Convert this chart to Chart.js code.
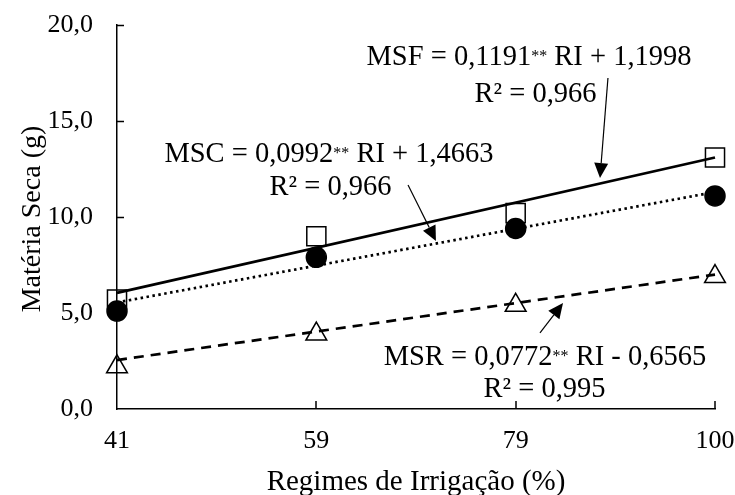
<!DOCTYPE html>
<html><head><meta charset="utf-8">
<script src="https://cdn.jsdelivr.net/npm/chart.js@4"></script>
<style>html,body{margin:0;padding:0;background:#fff}canvas{display:block}</style>
</head><body>
<canvas id="c" width="735" height="495"></canvas>
<script>
// ---- data ----
const categories = ['41', '59', '79', '100'];
const msfValues = [5.7, 9.0, 10.2, 13.1];
const mscValues = [5.1, 7.9, 9.4, 11.1];
const msrValues = [2.2, 3.9, 5.4, 6.9];
const msfTrend = [6.05, null, null, 13.1];
const mscTrend = [5.55, null, null, 11.3];
const msrTrend = [2.55, null, null, 7.0];
const yTickValues = [0, 5, 10, 15, 20];
const xTitle = 'Regimes de Irrigação (%)';
const yTitle = 'Matéria Seca (g)';

const SERIF = '"Liberation Serif", "Times New Roman", serif';

// annotation texts, anchored in data space (category index, value)
const textNotes = [
  { at: [2.067, 17.92], parts: [{ t: 'MSF = 0,1191' }, { t: '**', sup: true }, { t: ' RI + 1,1998' }] },
  { at: [2.0995, 15.99], parts: [{ t: 'R² = 0,966' }] },
  { at: [1.0636, 12.86], parts: [{ t: 'MSC = 0,0992' }, { t: '**', sup: true }, { t: ' RI + 1,4663' }] },
  { at: [1.0711, 11.15], parts: [{ t: 'R² = 0,966' }] },
  { at: [2.147, 2.29], parts: [{ t: 'MSR = 0,0772' }, { t: '**', sup: true }, { t: ' RI - 0,6565' }] },
  { at: [2.145, 0.625], parts: [{ t: 'R² = 0,995' }] }
];
const arrowNotes = [
  { from: [2.463, 17.24], to: [2.423, 12.03] },
  { from: [1.460, 11.67], to: [1.600, 8.75] },
  { from: [2.122, 3.96], to: [2.2375, 5.52] }
];

function drawParts(ctx, parts, cx, by, size) {
  const supSize = 16;
  let total = 0;
  parts.forEach(p => {
    ctx.font = (p.sup ? supSize : size) + 'px ' + SERIF;
    p.w = ctx.measureText(p.t).width;
    total += p.w;
  });
  let x = cx - total / 2;
  ctx.textAlign = 'left';
  ctx.textBaseline = 'alphabetic';
  parts.forEach(p => {
    ctx.font = (p.sup ? supSize : size) + 'px ' + SERIF;
    ctx.fillText(p.t, x, p.sup ? by - 4 : by);
    x += p.w;
  });
}

function drawArrow(ctx, x1, y1, x2, y2) {
  const ang = Math.atan2(y2 - y1, x2 - x1);
  const L = 15, W = 7;
  const bx = x2 - L * Math.cos(ang), by = y2 - L * Math.sin(ang);
  ctx.beginPath(); ctx.moveTo(x1, y1); ctx.lineTo(bx, by); ctx.stroke();
  ctx.beginPath(); ctx.moveTo(x2, y2);
  ctx.lineTo(bx + W * Math.sin(ang), by - W * Math.cos(ang));
  ctx.lineTo(bx - W * Math.sin(ang), by + W * Math.cos(ang));
  ctx.closePath(); ctx.fill();
}

const decor = {
  id: 'decor',
  afterDraw(chart) {
    const { ctx, scales: { x, y }, chartArea: a } = chart;
    ctx.save();
    ctx.strokeStyle = '#000'; ctx.fillStyle = '#000';
    // inward tick marks
    ctx.lineWidth = 1.5;
    ctx.beginPath();
    yTickValues.forEach(v => {
      if (v === 0) return;
      const py = Math.round(y.getPixelForValue(v)) + 0.5;
      ctx.moveTo(a.left, py); ctx.lineTo(a.left + 7, py);
    });
    categories.forEach((c, i) => {
      if (i === 0) return;
      const px = Math.round(x.getPixelForValue(i));
      ctx.moveTo(px, a.bottom); ctx.lineTo(px, a.bottom - 8);
    });
    ctx.stroke();
    // axis titles
    ctx.font = '29px ' + SERIF;
    ctx.textAlign = 'center'; ctx.textBaseline = 'alphabetic';
    ctx.fillText(xTitle, (a.left + a.right) / 2, 490);
    ctx.save();
    ctx.translate(40, 219);
    ctx.rotate(-Math.PI / 2);
    ctx.font = '28px ' + SERIF;
    ctx.fillText(yTitle, 0, 0);
    ctx.restore();
    // annotations
    textNotes.forEach(n => {
      drawParts(ctx, n.parts, x.getPixelForValue(n.at[0]), y.getPixelForValue(n.at[1]), 28.5);
    });
    ctx.lineWidth = 1.2;
    arrowNotes.forEach(n => {
      drawArrow(ctx, x.getPixelForValue(n.from[0]), y.getPixelForValue(n.from[1]),
        x.getPixelForValue(n.to[0]), y.getPixelForValue(n.to[1]));
    });
    ctx.restore();
  }
};

const markerBase = { showLine: false, clip: false, borderColor: '#000', pointBorderColor: '#000', pointBorderWidth: 1.5 };
const lineBase = { clip: false, borderColor: '#000', borderWidth: 2.7, pointRadius: 0, spanGaps: true, fill: false, tension: 0 };

new Chart(document.getElementById('c'), {
  type: 'line',
  data: {
    labels: categories,
    datasets: [
      Object.assign({ label: 'MSC', data: mscValues, pointStyle: 'circle', pointRadius: 10, pointBackgroundColor: '#000' }, markerBase),
      Object.assign({ label: 'MSF', data: msfValues, pointStyle: 'rect', pointRadius: 13.5, pointBackgroundColor: 'rgba(0,0,0,0)' }, markerBase),
      Object.assign({ label: 'MSR', data: msrValues, pointStyle: 'triangle', pointRadius: 12, pointBackgroundColor: 'rgba(0,0,0,0)' }, markerBase),
      Object.assign({ label: 'MSF trend', data: msfTrend }, lineBase),
      Object.assign({ label: 'MSC trend', data: mscTrend, borderDash: [2.5, 3.5] }, lineBase),
      Object.assign({ label: 'MSR trend', data: msrTrend, borderDash: [10, 7] }, lineBase)
    ]
  },
  options: {
    responsive: false,
    animation: false,
    events: [],
    layout: { padding: { top: 25, right: 20, left: 0, bottom: 0 } },
    plugins: { legend: { display: false }, tooltip: { enabled: false } },
    scales: {
      x: {
        type: 'category', offset: false,
        grid: { display: false, drawTicks: false },
        border: { display: true, color: '#000', width: 1.5 },
        ticks: { padding: 17, color: '#000', font: { family: SERIF, size: 26 }, maxRotation: 0, autoSkip: false },
        afterFit(s) { s.height = 86; s.paddingLeft = 0; s.paddingRight = 0; }
      },
      y: {
        min: 0, max: 20,
        grid: { display: false, drawTicks: false },
        border: { display: true, color: '#000', width: 1.5 },
        ticks: { padding: 24, color: '#000', font: { family: SERIF, size: 26 },
          callback: v => Number(v).toFixed(1).replace('.', ',') },
        afterBuildTicks(s) { s.ticks = yTickValues.map(v => ({ value: v })); },
        afterFit(s) { s.width = 117; s.paddingTop = 0; s.paddingBottom = 0; }
      }
    }
  },
  plugins: [decor]
});
</script>
</body></html>
